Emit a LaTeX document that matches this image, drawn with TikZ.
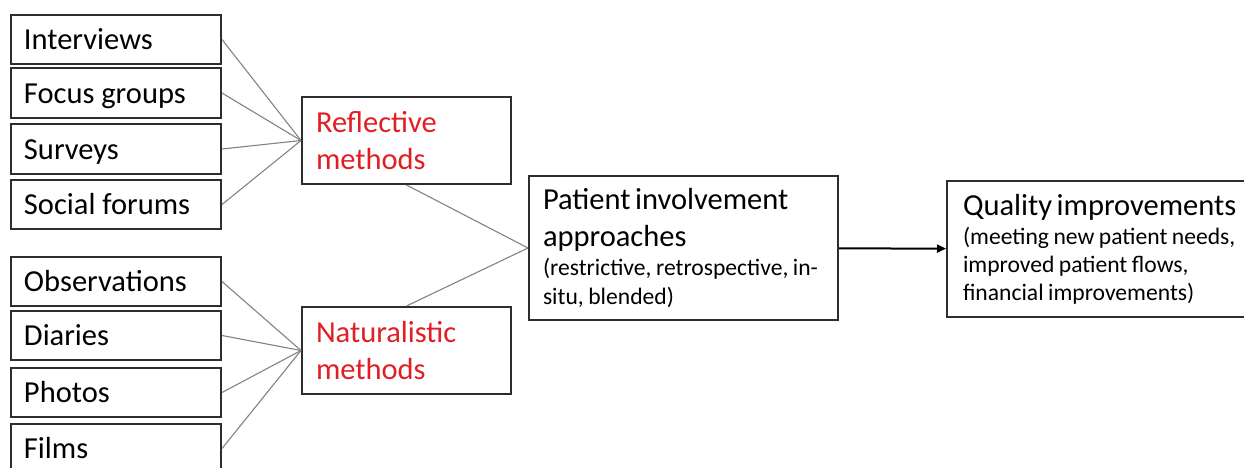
\documentclass[tikz,border=0pt]{standalone}
\usepackage{xcolor}
\usepackage{fontspec}
\setmainfont{Carlito}
\usetikzlibrary{arrows.meta}

\definecolor{methodred}{RGB}{224,30,36}
\definecolor{linkgray}{RGB}{130,130,130}
\definecolor{boxline}{RGB}{45,45,45}

\newcommand{\lgtxt}{\fontsize{15.25}{18.5}\selectfont}
\newcommand{\smtxt}{\fontsize{11.8}{14.5}\selectfont}

\begin{document}
\begin{tikzpicture}[x=0.5pt,y=-0.5pt,
	box/.style={draw=boxline, line width=1pt, rectangle, inner ysep=0pt, execute at begin node={\raggedright\spaceskip=\fontdimen2\font\relax}},
	srcbox/.style={box, font=\lgtxt, text width=92pt, inner xsep=6.5pt, minimum height=24.75pt, text height=10pt, text depth=0pt},
	methodbox/.style={box, font=\lgtxt, text=methodred, text width=90.5pt, inner xsep=7pt, minimum height=43.5pt},
	link/.style={draw=linkgray, line width=0.55pt}]
	% Parameters
	\def\srcx{116}
	\def\methx{406.5}

	\useasboundingbox (0,0) rectangle (1244,467);
	\clip (0,0) rectangle (1244,467);

	%sources
	\node[srcbox] (interviews) at (\srcx,39.5) {Interviews};
	\node[srcbox] (focus) at (\srcx,93) {Focus groups};
	\node[srcbox] (surveys) at (\srcx,149) {Surveys};
	\node[srcbox] (forums) at (\srcx,204.5) {Social forums};
	\node[srcbox] (observations) at (\srcx,281.5) {Observations};
	\node[srcbox] (diaries) at (\srcx,335.5) {Diaries};
	\node[srcbox] (photos) at (\srcx,392.5) {Photos};
	\node[srcbox] (films) at (\srcx,448.5) {Films};

	%methods
	\node[methodbox] (reflective) at (\methx,140.5) {Reflective\\methods};
	\node[methodbox] (naturalistic) at (\methx,350.5) {Naturalistic\\methods};

	%approaches and outcome
	\node[box, text width=140.5pt, inner xsep=7pt, minimum height=72pt] (patient) at (683.5,248)
		{{\lgtxt Patient involvement\\approaches\par}{\smtxt (restrictive, retrospective, in-\\situ, blended)\par}};
	\node[box, text width=140pt, inner xsep=8pt, minimum height=68pt] (quality) at (1103,249)
		{{\lgtxt Quality improvements\par}\vspace{1pt}{\fontsize{11.8}{13.8}\selectfont (meeting new patient needs,\\improved patient flows,\\financial improvements)\par}};

	%links
	\draw[link] (interviews.east) -- (reflective.west);
	\draw[link] (focus.east) -- (reflective.west);
	\draw[link] (surveys.east) -- (reflective.west);
	\draw[link] (forums.east) -- (reflective.west);
	\draw[link] (observations.east) -- (naturalistic.west);
	\draw[link] (diaries.east) -- (naturalistic.west);
	\draw[link] (photos.east) -- (naturalistic.west);
	\draw[link] (films.east) -- (naturalistic.west);
	\draw[link] (reflective.south) -- (patient.west);
	\draw[link] (naturalistic.north) -- (patient.west);
	\draw[line width=1pt, -{Triangle[length=4.5pt,width=4pt]}] (patient) -- (quality);
\end{tikzpicture}
\end{document}
